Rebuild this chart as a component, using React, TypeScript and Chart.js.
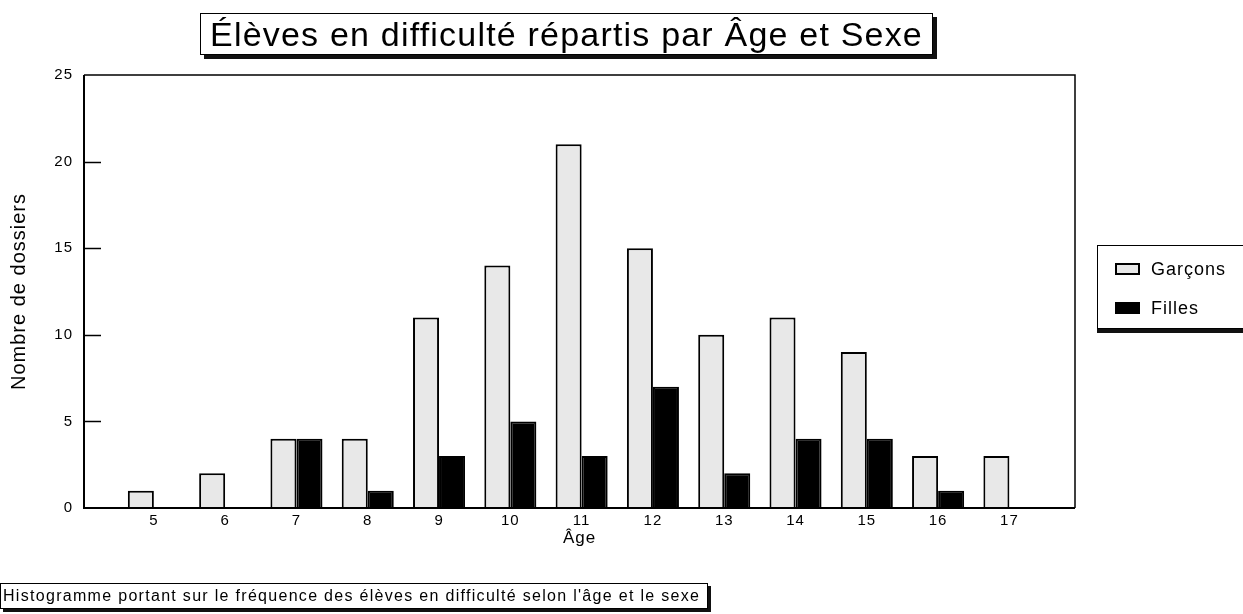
import React, { useEffect, useRef } from 'react';
import { Chart, registerables } from 'chart.js';

Chart.register(...registerables);

const ages = [5, 6, 7, 8, 9, 10, 11, 12, 13, 14, 15, 16, 17];
const garcons = [1, 2, 4, 4, 11, 14, 21, 15, 10, 11, 9, 3, 3];
const filles = [0, 0, 4, 1, 3, 5, 3, 7, 2, 4, 4, 1, 0];
const seriesNames = ['Garçons', 'Filles'];
const seriesColors = ['#e8e8e8', '#000000'];
const xMin = 4.02;
const xMax = 17.92;
const yMax = 25;
const yStep = 5;
const titleText = 'Élèves en difficulté répartis par Âge et Sexe';
const xTitle = 'Âge';
const yTitle = 'Nombre de dossiers';
const captionText = "Histogramme portant sur le fréquence des élèves en difficulté selon l'âge et le sexe";

const FONT = "'Liberation Sans', Arial, Helvetica, sans-serif";

const framePlugin = {
  id: 'frame',
  beforeLayout(chart: any) {
    chart.ctx.letterSpacing = '1px';
  },
  beforeDraw(chart: any) {
    chart.ctx.letterSpacing = '1px';
  },
  afterDraw(chart: any) {
    const { ctx, chartArea } = chart;
    const { left, top, right, bottom } = chartArea;
    ctx.save();
    ctx.strokeStyle = '#000';
    ctx.lineWidth = 1.5;
    ctx.beginPath();
    ctx.moveTo(left, top);
    ctx.lineTo(right, top);
    ctx.lineTo(right, bottom);
    ctx.stroke();
    ctx.lineWidth = 2;
    ctx.beginPath();
    ctx.moveTo(left, top);
    ctx.lineTo(left, bottom);
    ctx.lineTo(right, bottom);
    ctx.stroke();
    const ys = chart.scales.y;
    ctx.lineWidth = 1.5;
    ys.ticks.forEach((t: any) => {
      if (t.value > 0 && t.value < yMax) {
        const py = Math.round(ys.getPixelForValue(t.value)) + 0.5;
        ctx.beginPath();
        ctx.moveTo(left, py);
        ctx.lineTo(left + 17, py);
        ctx.stroke();
      }
    });
    ctx.restore();
  },
};

function ChartCanvas() {
  const ref = useRef<HTMLCanvasElement | null>(null);
  useEffect(() => {
    if (!ref.current) return;
    const chart = new Chart(ref.current, {
      type: 'bar',
      data: {
        labels: ages,
        datasets: [
          {
            label: seriesNames[0],
            data: garcons,
            backgroundColor: seriesColors[0],
            borderColor: '#000',
            borderWidth: 2,
            barPercentage: 1,
            categoryPercentage: 0.73,
          },
          {
            label: seriesNames[1],
            data: filles,
            backgroundColor: seriesColors[1],
            borderColor: '#000',
            borderWidth: 2,
            barPercentage: 1,
            categoryPercentage: 0.73,
          },
        ],
      },
      options: {
        responsive: false,
        animation: false,
        events: [],
        layout: { padding: { left: 0, top: 75, right: 168, bottom: 46 } },
        plugins: { legend: { display: false }, tooltip: { enabled: false }, title: { display: false } },
        scales: {
          x: {
            type: 'linear',
            min: xMin,
            max: xMax,
            offset: false,
            grid: { display: false, drawTicks: false },
            border: { display: false },
            afterBuildTicks: (s: any) => {
              s.ticks = ages.map((v) => ({ value: v }));
            },
            afterFit: (s: any) => {
              s.height = 60;
            },
            ticks: {
              color: '#000',
              font: { size: 15, family: FONT },
              padding: 4,
              autoSkip: false,
              maxRotation: 0,
              callback: (v: any) => String(v),
            },
            title: {
              display: true,
              text: xTitle,
              color: '#000',
              font: { size: 17, family: FONT },
              padding: { top: 0, bottom: 19 },
            },
          },
          y: {
            min: 0,
            max: yMax,
            grid: { display: false, drawTicks: false },
            border: { display: false },
            afterFit: (s: any) => {
              s.width = 84;
            },
            ticks: {
              stepSize: yStep,
              color: '#000',
              font: { size: 15, family: FONT },
              padding: 11,
            },
            title: {
              display: true,
              text: yTitle,
              color: '#000',
              font: { size: 20, family: FONT },
              padding: { top: 7, bottom: 0 },
            },
          },
        },
      } as any,
      plugins: [framePlugin],
    });
    return () => chart.destroy();
  }, []);
  return <canvas ref={ref} width={1243} height={614} style={{ display: 'block', position: 'absolute', left: 0, top: 0 }} />;
}

export default function App() {
  return (
    <div
      style={{
        position: 'fixed',
        left: 0,
        top: 0,
        width: 1243,
        height: 614,
        overflow: 'hidden',
        background: '#fff',
        fontFamily: FONT,
        color: '#000',
      }}
    >
      <ChartCanvas />
      <div
        style={{
          position: 'absolute',
          left: 200,
          top: 13,
          width: 733,
          height: 42,
          boxSizing: 'border-box',
          border: '1.5px solid #000',
          boxShadow: '4px 4px 0 #111',
          display: 'flex',
          alignItems: 'center',
          justifyContent: 'center',
          fontSize: 34,
          letterSpacing: '1.2px',
          whiteSpace: 'nowrap',
          background: '#fff',
        }}
      >
        {titleText}
      </div>
      <div
        style={{
          position: 'absolute',
          left: 1097,
          top: 245,
          width: 170,
          height: 84,
          boxSizing: 'border-box',
          border: '1.5px solid #000',
          boxShadow: '0 4px 0 #111',
          background: '#fff',
        }}
      >
        {seriesNames.map((name, i) => (
          <div
            key={name}
            style={{
              position: 'absolute',
              left: 17,
              top: i === 0 ? 12 : 51,
              height: 22,
              display: 'flex',
              alignItems: 'center',
              fontSize: 18,
              letterSpacing: '1px',
              whiteSpace: 'nowrap',
            }}
          >
            <span
              style={{
                display: 'inline-block',
                width: 25,
                height: 12,
                boxSizing: 'border-box',
                border: '2px solid #000',
                background: seriesColors[i],
                marginRight: 11,
              }}
            />
            {name}
          </div>
        ))}
      </div>
      <div
        style={{
          position: 'absolute',
          left: 0,
          top: 583,
          width: 708,
          height: 26,
          boxSizing: 'border-box',
          border: '1.5px solid #000',
          boxShadow: '3px 3px 0 #111',
          display: 'flex',
          alignItems: 'center',
          paddingLeft: 2,
          fontSize: 16,
          letterSpacing: '1.3px',
          whiteSpace: 'nowrap',
          background: '#fff',
        }}
      >
        {captionText}
      </div>
    </div>
  );
}
